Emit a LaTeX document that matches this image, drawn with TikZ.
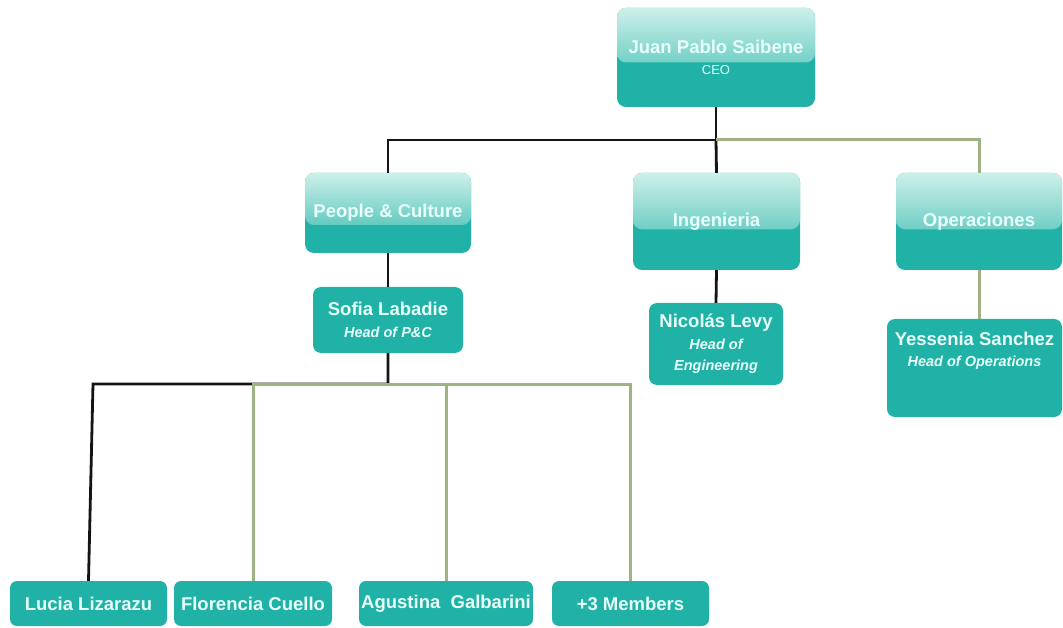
\documentclass[tikz,border=0pt]{standalone}
\usepackage{fontspec}
\setmainfont{Liberation Sans}
\usetikzlibrary{calc}

\definecolor{tealbox}{HTML}{20B2A6}
\definecolor{glosstop}{HTML}{CDF0EA}
\definecolor{glossmid}{HTML}{86D8CF}
\definecolor{glossbot}{HTML}{2BB6AA}
\definecolor{boxtext}{HTML}{E8FFFB}
\definecolor{linkgreen}{HTML}{9FB283}
\definecolor{linkblack}{HTML}{141414}

\newcommand{\mainsize}{\fontsize{18.5}{21.5}\selectfont\bfseries}
\newcommand{\rolefont}{\fontsize{14.5}{21.5}\selectfont\bfseries\itshape}
\newcommand{\ceofont}{\fontsize{13}{20}\selectfont\mdseries}

\tikzset{
  orgbox/.style={rectangle, rounded corners=9pt, fill=tealbox, text=boxtext,
    font=\mainsize, align=center, inner sep=1pt},
  glossy/.style={path picture={
    \shade[top color=glosstop, middle color=glossmid, bottom color=glossbot]
      (path picture bounding box.north west) rectangle
      ($(path picture bounding box.north east)!#1!(path picture bounding box.south east)$);}},
  blk/.style={draw=linkblack, line width=2.8pt},
  grn/.style={draw=linkgreen, line width=3pt},
}

\begin{document}
\begin{tikzpicture}[x=1pt, y=-1pt]
  \useasboundingbox (0,0) rectangle (1063,628);

  % top level
  \node[orgbox, glossy=0.55, minimum width=198pt, minimum height=99pt] (ceo) at (716,57.5)
    {Juan Pablo Saibene\\{\ceofont CEO}};

  % departments
  \node[orgbox, glossy=0.65, minimum width=166pt, minimum height=80pt] (pc) at (388,213)
    {People \& Culture};
  \node[orgbox, glossy=0.58, minimum width=167pt, minimum height=97pt] (ing) at (716.5,221.5)
    {Ingenieria};
  \node[orgbox, glossy=0.58, minimum width=166pt, minimum height=97pt] (ops) at (979,221.5)
    {Operaciones};

  % heads
  \node[orgbox, rounded corners=8pt, minimum width=150pt, minimum height=66pt] (sofia) at (388,320)
    {Sofia Labadie\\{\rolefont Head of P\&C}};
  \node[orgbox, rounded corners=8pt, minimum width=134pt, minimum height=82pt] (nico) at (716,344)
    {Nicolás Levy\\{\rolefont Head of}\\{\rolefont Engineering}};
  \node[orgbox, rounded corners=8pt, minimum width=175pt, minimum height=98pt] (yess) at (974.5,368)
    {Yessenia Sanchez\\{\rolefont Head of Operations}\\[16pt]\mbox{}};

  % team members
  \node[orgbox, rounded corners=7pt, minimum width=157pt, minimum height=45pt] (lucia) at (88.5,603.5)
    {Lucia Lizarazu};
  \node[orgbox, rounded corners=7pt, minimum width=158pt, minimum height=45pt] (flor) at (253,603.5)
    {Florencia Cuello};
  \node[orgbox, rounded corners=7pt, minimum width=174pt, minimum height=45pt] (agus) at (446,603.5)
    {Agustina\ \ Galbarini};
  \node[orgbox, rounded corners=7pt, minimum width=157pt, minimum height=45pt] (more) at (630.5,603.5)
    {+3 Members};

  % junction points of the connector buses
  \coordinate (topbus) at (716,140);
  \coordinate (botbus) at (388,384);
  \coordinate (luciabend) at (93,384);

  % black links
  \draw[blk] (ceo.south) -- (topbus) -| (pc.north);
  \draw[blk] (topbus) -- (ing.north);
  \draw[blk] (pc.south) -- (sofia.north);
  \draw[blk] (ing.south) -- (nico.north);
  \draw[blk] (sofia.south) -- (botbus) -- (luciabend) -- (lucia.north);

  % green links
  \draw[grn] (topbus) -| (ops.north);
  \draw[grn] (ops.south) -- (ops.south |- yess.north);
  \draw[grn] (botbus) -| (flor.north);
  \draw[grn] (botbus) -| (agus.north);
  \draw[grn] (botbus) -| (more.north);
\end{tikzpicture}
\end{document}
